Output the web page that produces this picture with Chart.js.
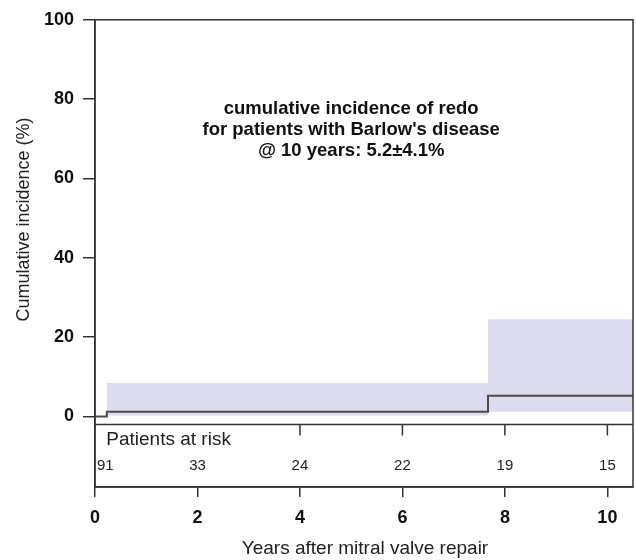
<!DOCTYPE html>
<html>
<head>
<meta charset="utf-8">
<script src="https://cdn.jsdelivr.net/npm/chart.js@4"></script>
<style>
  html, body { margin: 0; padding: 0; background: #fff; }
  #wrap { width: 636px; height: 560px; position: relative; }
</style>
</head>
<body>
<div id="wrap"><canvas id="incidenceChart"></canvas></div>
<script>
/* Cumulative incidence of redo - Barlow's disease */
var curveYears = [0, 0.23, 7.67, 10.5];
var curveValues = [0, 1.2, 5.2, 5.2];
var bandYears = [0.23, 7.67, 10.5];
var bandUpper = [8.4, 24.5, 24.5];
var bandLower = [0.2, 1.2, 1.2];

var xTicks = [0, 2, 4, 6, 8, 10];
var yTicks = [0, 20, 40, 60, 80, 100];

var riskYears = [0.2, 2, 4, 6, 8, 10];
var riskCounts = [91, 33, 24, 22, 19, 15];
var riskTickYears = [4, 6, 8, 10];

var noteLines = [
    'cumulative incidence of redo',
    "for patients with Barlow's disease",
    '@ 10 years: 5.2\u00b14.1%'
];

var FONT = "'Liberation Sans', Arial, Helvetica, sans-serif";
var AXIS = '#333333';
var TABLE_TOP = -1.8;   // y value where the risk table starts
var Y_MIN = -17.8;

function pts(xs, ys) {
    return xs.map(function (x, i) { return { x: x, y: ys[i] }; });
}

var decorPlugin = {
    id: 'decor',
    afterDraw: function (chart) {
        var c = chart.ctx;
        var a = chart.chartArea;
        var xs = chart.scales.x;
        var ys = chart.scales.y;
        c.save();
        c.strokeStyle = AXIS;
        c.lineWidth = 1.5;
        c.strokeRect(a.left, a.top, a.right - a.left, a.bottom - a.top);

        // risk table separator + ticks
        var tY = Math.round(ys.getPixelForValue(TABLE_TOP)) + 0.5;
        c.beginPath();
        c.moveTo(a.left, tY);
        c.lineTo(a.right, tY);
        riskTickYears.forEach(function (yr) {
            var px = xs.getPixelForValue(yr);
            c.moveTo(px, tY);
            c.lineTo(px, tY + 11);
        });
        c.stroke();

        c.fillStyle = '#222';
        c.textBaseline = 'middle';
        c.textAlign = 'left';
        c.font = '19px ' + FONT;
        c.fillText('Patients at risk', xs.getPixelForValue(0.22), tY + 15);

        c.textAlign = 'center';
        c.font = '15px ' + FONT;
        riskCounts.forEach(function (n, i) {
            c.fillText(String(n), xs.getPixelForValue(riskYears[i]), tY + 41);
        });

        // annotation
        c.font = 'bold 18.5px ' + FONT;
        c.fillStyle = '#111';
        var nx = xs.getPixelForValue(5.0);
        var ny = ys.getPixelForValue(77.6);
        noteLines.forEach(function (t, i) {
            c.fillText(t, nx, ny + i * 21);
        });

        // axis titles
        c.font = '19px ' + FONT;
        c.fillStyle = '#222';
        c.fillText('Years after mitral valve repair', 365, 549);
        c.font = '18px ' + FONT;
        c.translate(24, 219.5);
        c.rotate(-Math.PI / 2);
        c.fillText('Cumulative incidence (%)', 0, 0);
        c.restore();
    }
};

var ctx = document.getElementById('incidenceChart');
new Chart(ctx, {
    type: 'line',
    data: {
        datasets: [
            {
                label: 'upper',
                data: pts(bandYears, bandUpper),
                stepped: true,
                borderWidth: 0,
                borderColor: 'rgba(0,0,0,0)',
                backgroundColor: '#dddcee',
                pointRadius: 0,
                fill: '+1',
                order: 2
            },
            {
                label: 'lower',
                data: pts(bandYears, bandLower),
                stepped: true,
                borderWidth: 0,
                borderColor: 'rgba(0,0,0,0)',
                pointRadius: 0,
                fill: false,
                order: 2
            },
            {
                label: 'Cumulative incidence',
                data: pts(curveYears, curveValues),
                stepped: true,
                borderColor: '#4a4a4a',
                borderWidth: 2,
                pointRadius: 0,
                fill: false,
                order: 0
            }
        ]
    },
    options: {
        responsive: true,
        maintainAspectRatio: false,
        animation: false,
        layout: { padding: { top: 16, right: 3, left: 0, bottom: 0 } },
        plugins: {
            legend: { display: false },
            tooltip: { enabled: false }
        },
        scales: {
            x: {
                type: 'linear',
                min: 0,
                max: 10.5,
                afterBuildTicks: function (s) { s.ticks = xTicks.map(function (v) { return { value: v }; }); },
                afterFit: function (s) { s.height = 73; },
                grid: { drawOnChartArea: false, tickLength: 10, color: AXIS, lineWidth: 1.5 },
                border: { display: true, color: AXIS, width: 1.5 },
                ticks: { color: '#111', padding: 10, maxRotation: 0, font: { family: FONT, size: 18, weight: 'bold' } }
            },
            y: {
                type: 'linear',
                min: Y_MIN,
                max: 100,
                afterBuildTicks: function (s) { s.ticks = yTicks.map(function (v) { return { value: v }; }); },
                afterFit: function (s) { s.width = 95; },
                grid: { drawOnChartArea: false, tickLength: 12, color: AXIS, lineWidth: 1.5 },
                border: { display: true, color: AXIS, width: 1.5 },
                ticks: { color: '#111', padding: 9, font: { family: FONT, size: 18, weight: 'bold' } }
            }
        }
    },
    plugins: [decorPlugin]
});
</script>
</body>
</html>
